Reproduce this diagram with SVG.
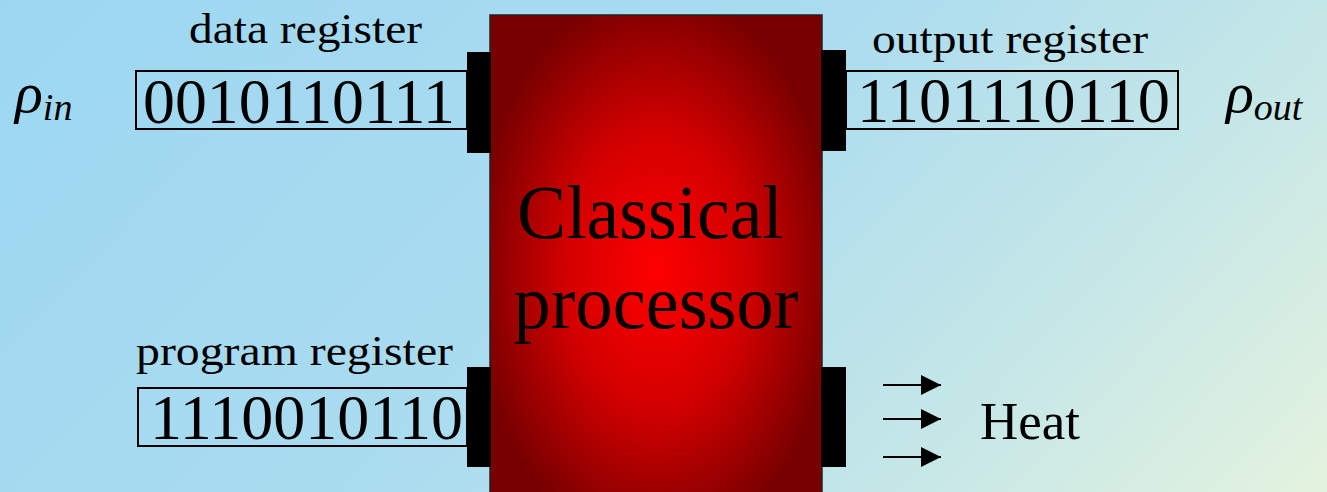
<svg xmlns="http://www.w3.org/2000/svg" width="1327" height="492" viewBox="0 0 1327 492">
  <defs>
    <linearGradient id="bg" gradientUnits="userSpaceOnUse" x1="0" y1="0" x2="1000" y2="950">
      <stop offset="0" stop-color="#9cd7f2"/>
      <stop offset="0.45" stop-color="#abdcef"/>
      <stop offset="0.72" stop-color="#c6e7e7"/>
      <stop offset="1" stop-color="#ecf6dc"/>
    </linearGradient>
    <radialGradient id="cpu" cx="0.5" cy="0.5" r="0.55">
      <stop offset="0" stop-color="#ff0000"/>
      <stop offset="0.5" stop-color="#d20000"/>
      <stop offset="1" stop-color="#780000"/>
    </radialGradient>
    <marker id="arr" markerWidth="20" markerHeight="20" refX="20" refY="10" orient="auto" markerUnits="userSpaceOnUse" viewBox="0 0 20 20">
      <path d="M0,0 L20,10 L0,20 Z" fill="#000"/>
    </marker>
    <style>
      .lbl { font-family: "Liberation Serif", "Times New Roman", serif; font-size: 42px; fill: #000; }
      .bits { font-family: "Liberation Serif", "Times New Roman", serif; font-size: 64px; fill: #000; }
      .reg { fill: none; stroke: #000; stroke-width: 2; }
      .port { fill: #000; }
      .math { font-family: "Liberation Serif", "Times New Roman", serif; font-style: italic; fill: #000; }
      .big { font-family: "Liberation Serif", "Times New Roman", serif; font-size: 76px; fill: #000; }
      .heat { stroke: #000; stroke-width: 2; fill: none; }
    </style>
  </defs>
  <rect x="0" y="0" width="1327" height="492" fill="url(#bg)"/>

  <g id="processor">
    <rect x="490" y="15" width="332" height="510" fill="url(#cpu)" stroke="#222" stroke-width="1.5"/>
    <text class="big" x="650" y="238" text-anchor="middle" textLength="266" lengthAdjust="spacingAndGlyphs">Classical</text>
    <text class="big" x="656" y="328" text-anchor="middle" textLength="285" lengthAdjust="spacingAndGlyphs">processor</text>
  </g>

  <g id="ports">
    <rect class="port" x="467" y="52" width="24" height="101"/>
    <rect class="port" x="821" y="50" width="25" height="101"/>
    <rect class="port" x="467" y="367" width="24" height="100"/>
    <rect class="port" x="821" y="367" width="25" height="100"/>
  </g>

  <g id="data-register">
    <text class="lbl" x="189" y="43" textLength="233" lengthAdjust="spacingAndGlyphs">data register</text>
    <rect class="reg" x="136" y="71" width="331" height="58"/>
    <text class="bits" x="143" y="123" textLength="312" lengthAdjust="spacingAndGlyphs">0010110111</text>
  </g>

  <g id="output-register">
    <text class="lbl" x="872" y="53" textLength="276" lengthAdjust="spacingAndGlyphs">output register</text>
    <rect class="reg" x="846" y="71" width="332" height="58"/>
    <text class="bits" x="857" y="122" textLength="313" lengthAdjust="spacingAndGlyphs">1101110110</text>
  </g>

  <g id="program-register">
    <text class="lbl" x="136" y="365" textLength="317" lengthAdjust="spacingAndGlyphs">program register</text>
    <rect class="reg" x="138" y="388" width="329" height="58"/>
    <text class="bits" x="150" y="439" textLength="313" lengthAdjust="spacingAndGlyphs">1110010110</text>
  </g>

  <g id="rho-in">
    <text class="math" x="15" y="112" font-size="58">ρ<tspan font-size="38" dy="8">in</tspan></text>
  </g>
  <g id="rho-out">
    <text class="math" x="1226" y="112" font-size="58">ρ<tspan font-size="38" dy="8">out</tspan></text>
  </g>

  <g id="connectors">
    <line class="heat" x1="883" y1="385" x2="941" y2="385" marker-end="url(#arr)"/>
    <line class="heat" x1="883" y1="419" x2="941" y2="419" marker-end="url(#arr)"/>
    <line class="heat" x1="883" y1="457" x2="941" y2="457" marker-end="url(#arr)"/>
  </g>

  <g id="heat">
    <text class="lbl" x="980" y="439" style="font-size:52px" textLength="100" lengthAdjust="spacingAndGlyphs">Heat</text>
  </g>
</svg>
